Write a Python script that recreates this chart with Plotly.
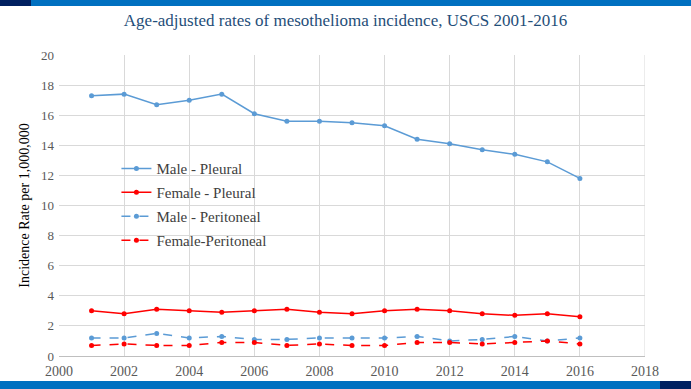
import plotly.graph_objects as go

years = list(range(2001, 2017))
male_pleural = [17.3, 17.4, 16.7, 17.0, 17.4, 16.1, 15.6, 15.6, 15.5, 15.3, 14.4, 14.1, 13.7, 13.4, 12.9, 11.8]
female_pleural = [3.0, 2.8, 3.1, 3.0, 2.9, 3.0, 3.1, 2.9, 2.8, 3.0, 3.1, 3.0, 2.8, 2.7, 2.8, 2.6]
male_peritoneal = [1.2, 1.2, 1.5, 1.2, 1.3, 1.1, 1.1, 1.2, 1.2, 1.2, 1.3, 1.0, 1.1, 1.3, 1.0, 1.2]
female_peritoneal = [0.7, 0.8, 0.7, 0.7, 0.9, 0.9, 0.7, 0.8, 0.7, 0.7, 0.9, 0.9, 0.8, 0.9, 1.0, 0.8]

names = ["Male - Pleural", "Female - Pleural", "Male - Peritoneal", "Female-Peritoneal"]
series = [male_pleural, female_pleural, male_peritoneal, female_peritoneal]
colors = ["#5B9BD5", "#FF0000", "#5B9BD5", "#FF0000"]
dashes = ["solid", "solid", "dash", "dash"]

fig = go.Figure()
for i, (n, s, c, d) in enumerate(zip(names, series, colors, dashes)):
    fig.add_trace(go.Scatter(
        x=years, y=s, name=n, mode="lines+markers",
        line=dict(color=c, width=1.5, dash=d),
        marker=dict(color=c, size=5),
        legendgroup=f"g{i}",
    ))

serif = "Liberation Serif, Times New Roman, serif"
fig.update_layout(
    width=691, height=389,
    margin=dict(l=59, r=46, t=55, b=33, pad=0),
    paper_bgcolor="white", plot_bgcolor="white",
    title=dict(text="Age-adjusted rates of mesothelioma incidence, USCS 2001-2016",
               x=0.5, xanchor="center", y=0.948, yanchor="middle",
               font=dict(family=serif, size=17, color="#1F4E79")),
    font=dict(family=serif, size=13, color="#595959"),
    xaxis=dict(range=[2000, 2018], dtick=2, tick0=2000, showgrid=True, gridcolor="#D9D9D9",
               showline=True, linecolor="#BFBFBF", zeroline=False, ticks="",
               ticklabelstandoff=2, automargin=False,
               tickfont=dict(size=14, color="#595959"), mirror=False),
    yaxis=dict(range=[0, 20], dtick=2, showgrid=True, gridcolor="#D9D9D9",
               zeroline=False, showline=False, ticks="", automargin=False,
               ticklabelstandoff=4,
               tickfont=dict(size=13, color="#595959"),
               title=dict(text="Incidence Rate per 1,000,000", font=dict(size=14, color="#000000"), standoff=8)),
    legend=dict(x=0.098, y=0.677, xanchor="left", yanchor="top", bgcolor="rgba(0,0,0,0)",
                font=dict(size=15, color="#404040"), traceorder="grouped", tracegroupgap=1.4,
                itemwidth=30),
    showlegend=True,
)

# decorative bars
fig.add_shape(type="rect", xref="paper", yref="paper", x0=-59/586, x1=(31-59)/586,
              y0=1 + 49/301, y1=1 + 55/301, fillcolor="#002060", line_width=0, layer="above")
fig.add_shape(type="rect", xref="paper", yref="paper", x0=(31-59)/586, x1=(691-59)/586,
              y0=1 + 49/301, y1=1 + 55/301, fillcolor="#0070C0", line_width=0, layer="above")
fig.add_shape(type="rect", xref="paper", yref="paper", x0=-59/586, x1=(660-59)/586,
              y0=-33/301, y1=-25/301, fillcolor="#0070C0", line_width=0, layer="above")
fig.add_shape(type="rect", xref="paper", yref="paper", x0=(660-59)/586, x1=(691-59)/586,
              y0=-33/301, y1=-25/301, fillcolor="#002060", line_width=0, layer="above")
# right border grid line at 2018
fig.add_shape(type="line", xref="x", yref="paper", x0=2018, x1=2018, y0=0, y1=1,
              line=dict(color="#D9D9D9", width=1), layer="below")

fig.write_html("out.html", config={"displayModeBar": False},
               post_script="document.body.style.margin='0';document.body.style.overflow='hidden';")
